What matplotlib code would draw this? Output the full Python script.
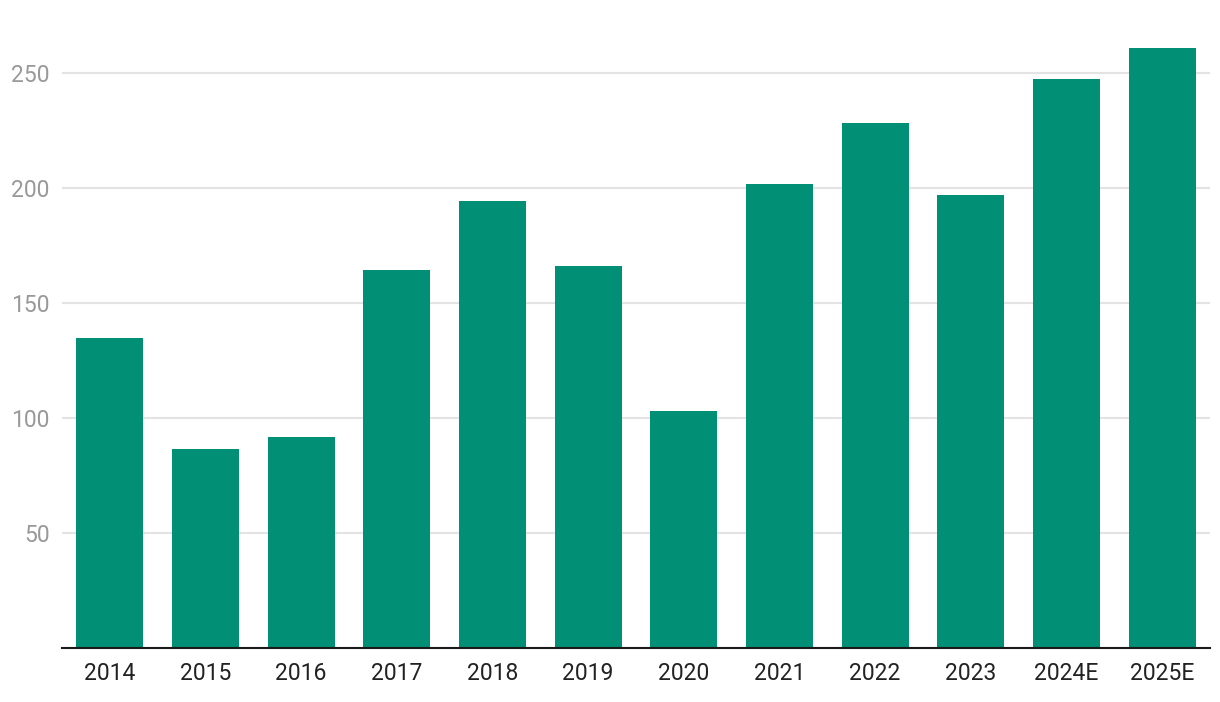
import matplotlib
matplotlib.use('Agg')
from matplotlib import pyplot as plt

anos = ['2014', '2015', '2016', '2017', '2018', '2019', '2020', '2021', '2022', '2023', '2024E', '2025E']
valores = [134.8, 86.5, 91.7, 164.3, 194.3, 166.1, 103.0, 201.7, 228.3, 197.0, 247.4, 260.9]
ticks_y = [50, 100, 150, 200, 250]

plt.rcParams['font.family'] = ['Roboto', 'DejaVu Sans']

fig = plt.figure(figsize=(12.2, 7.02), dpi=100)
ax = fig.add_axes([62 / 1220, 54 / 702, 1148 / 1220, 621 / 702])

x = list(range(len(anos)))
ax.bar(x, valores, width=0.7, color='#019075', zorder=2)

ax.set_xlim(-0.5, len(anos) - 0.5)
ax.set_ylim(0, 270)
ax.set_xticks(x)
ax.set_xticklabels(anos, fontsize=16.5, color='#222222')
ax.set_yticks(ticks_y)
ax.set_yticklabels([str(t) for t in ticks_y], fontsize=16.5, color='#999999')
ax.tick_params(axis='both', length=0)
ax.tick_params(axis='x', pad=10)
ax.tick_params(axis='y', pad=9)

ax.grid(axis='y', color='#e3e3e3', linewidth=1.5, zorder=0)
for lado in ['top', 'right', 'left']:
  ax.spines[lado].set_visible(False)
ax.spines['bottom'].set_color('#1a1a1a')
ax.spines['bottom'].set_linewidth(1.5)
ax.spines['bottom'].set_zorder(3)

fig.savefig('out.png', dpi=100)
